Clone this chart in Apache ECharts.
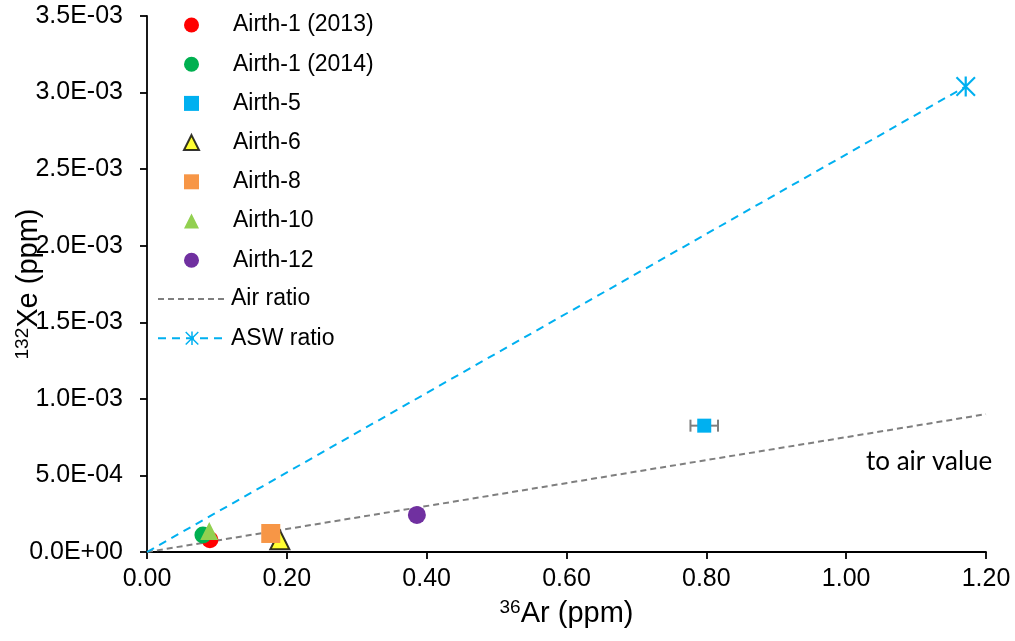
<!DOCTYPE html>
<html>
<head>
<meta charset="utf-8">
<script src="https://cdn.jsdelivr.net/npm/echarts@6/dist/echarts.min.js"></script>
<style>
  html, body { margin: 0; padding: 0; background: #fff; }
  #chart { width: 1015px; height: 641px; }
</style>
</head>
<body>
<div id="chart"></div>
<script>
// Sample measurements: [36Ar (ppm), 132Xe (ppm)]
const airth1_2013 = [[0.090, 0.80e-4]];
const airth1_2014 = [[0.080, 1.11e-4]];
const airth5 = [[0.797, 8.25e-4]];
const airth5ErrX = [0.0197];
const airth6 = [[0.190, 0.80e-4]];
const airth8 = [[0.177, 1.21e-4]];
const airth10 = [[0.089, 1.37e-4]];
const airth12 = [[0.386, 2.42e-4]];
// Reference lines through the origin
const airRatio = [[0, 0], [1.2, 9.0e-4]];
const aswRatio = [[0, 0], [1.171, 3.04e-3]];
// Axis ranges
const xAxisMax = 1.2, xAxisStep = 0.2;
const yAxisMax = 3.5e-3, yAxisStep = 5e-4;

const sampleNames = ['Airth-1 (2013)', 'Airth-1 (2014)', 'Airth-5', 'Airth-6', 'Airth-8', 'Airth-10', 'Airth-12'];
const lineNames = ['Air ratio', 'ASW ratio'];

const FONT = 'Liberation Sans, Arial, sans-serif';

function sciLabel(v) {
  if (Math.abs(v) < 1e-12) return '0.0E+00';
  const [m, e] = v.toExponential(1).split('e');
  const n = parseInt(e, 10);
  const sign = n < 0 ? '-' : '+';
  return m + 'E' + sign + String(Math.abs(n)).padStart(2, '0');
}

// six-armed star marker: vertical bar plus two diagonals
const asterisk = 'path://M8.9,0 L11.1,0 L11.1,20 L8.9,20 Z M0,1.5 L1.5,0 L20,18.5 L18.5,20 Z M18.5,0 L20,1.5 L1.5,20 L0,18.5 Z';

const chart = echarts.init(document.getElementById('chart'), null, { renderer: 'canvas' });

function scatter(name, data, symbol, color, size, extra) {
  return Object.assign({
    name, type: 'scatter', data, symbol, symbolSize: size, z: 5,
    itemStyle: { color, opacity: 1 },
    emphasis: { disabled: true }
  }, extra || {});
}

const titleRich = {
  sup: { fontFamily: FONT, fontSize: 19, color: '#000', verticalAlign: 'top', lineHeight: 32 },
  main: { fontFamily: FONT, fontSize: 29, color: '#000', lineHeight: 32 }
};

chart.setOption({
  animation: false,
  grid: { left: 147, right: 29, top: 16, bottom: 89, containLabel: false, outerBoundsMode: 'none' },
  xAxis: {
    type: 'value', min: 0, max: xAxisMax, interval: xAxisStep,
    axisLine: { onZero: false, lineStyle: { color: '#000', width: 1.8 } },
    axisTick: { show: true, length: 7, lineStyle: { color: '#000', width: 1.8 } },
    splitLine: { show: false },
    axisLabel: { color: '#000', fontFamily: FONT, fontSize: 25, margin: 15, formatter: v => v.toFixed(2) },
    name: '{sup|36}{main|Ar (ppm)}',
    nameLocation: 'middle', nameGap: 46, nameMoveOverlap: false,
    nameTextStyle: { rich: titleRich }
  },
  yAxis: {
    type: 'value', min: 0, max: yAxisMax, interval: yAxisStep,
    axisLine: { show: true, onZero: false, lineStyle: { color: '#000', width: 1.8 } },
    axisTick: { show: true, length: 7, lineStyle: { color: '#000', width: 1.8 } },
    splitLine: { show: false },
    axisLabel: { color: '#000', fontFamily: FONT, fontSize: 25, margin: 24, formatter: sciLabel },
    name: '{sup|132}{main|Xe (ppm)}',
    nameLocation: 'middle', nameGap: 102, nameRotate: 90, nameMoveOverlap: false,
    nameTextStyle: { rich: titleRich }
  },
  legend: [
    {
      orient: 'vertical', left: 183, top: 13, padding: 0,
      itemWidth: 15, itemHeight: 15, itemGap: 15.2,
      textStyle: { fontFamily: FONT, fontSize: 23, color: '#000', lineHeight: 24, padding: [0, 0, 0, 29] },
      data: sampleNames
    },
    {
      orient: 'vertical', left: 157, top: 287, padding: 0,
      itemWidth: 68, itemHeight: 17, itemGap: 15.2,
      textStyle: { fontFamily: FONT, fontSize: 23, color: '#000', lineHeight: 24 },
      data: [
        { name: lineNames[0], itemStyle: { color: 'rgba(0,0,0,0)', borderWidth: 0, opacity: 0 } },
        { name: lineNames[1] }
      ]
    }
  ],
  graphic: [{
    type: 'text', left: 866, top: 449,
    style: { text: 'to air value', fontFamily: 'Lato, Carlito, sans-serif', fontSize: 26, fill: '#000' }
  }],
  series: [
    {
      name: lineNames[0], type: 'line', data: airRatio, symbol: 'none', z: 2,
      lineStyle: { color: '#7f7f7f', width: 2, type: [6, 4] },
      itemStyle: { color: '#7f7f7f' },
      emphasis: { disabled: true }
    },
    {
      name: lineNames[1], type: 'line', z: 2,
      data: aswRatio.map((p, i) => i === 0 ? { value: p, symbol: 'none' } : { value: p }),
      symbol: asterisk, symbolSize: 20, showSymbol: true,
      lineStyle: { color: '#00b0f0', width: 2, type: [8, 6] },
      itemStyle: { color: '#00b0f0' },
      emphasis: { disabled: true }
    },
    scatter(sampleNames[0], airth1_2013, 'circle', '#ff0000', 17),
    scatter(sampleNames[1], airth1_2014, 'circle', '#00b050', 17),
    {
      type: 'custom', z: 4, silent: true,
      data: airth5.map((p, i) => [p[0], p[1], airth5ErrX[i]]),
      renderItem(params, api) {
        const x = api.value(0), y = api.value(1), e = api.value(2);
        const a = api.coord([x - e, y]), b = api.coord([x + e, y]);
        const st = { stroke: '#7f7f7f', lineWidth: 2 };
        return {
          type: 'group', children: [
            { type: 'line', shape: { x1: a[0], y1: a[1], x2: b[0], y2: b[1] }, style: st },
            { type: 'line', shape: { x1: a[0], y1: a[1] - 6, x2: a[0], y2: a[1] + 6 }, style: st },
            { type: 'line', shape: { x1: b[0], y1: b[1] - 6, x2: b[0], y2: b[1] + 6 }, style: st }
          ]
        };
      }
    },
    scatter(sampleNames[2], airth5, 'rect', '#00b0f0', 14),
    scatter(sampleNames[3], airth6, 'triangle', '#ffff00', 19, { itemStyle: { color: '#ffff00', borderColor: '#000', borderWidth: 2 } }),
    scatter(sampleNames[4], airth8, 'rect', '#f79646', 19),
    scatter(sampleNames[5], airth10, 'triangle', '#92d050', 18),
    scatter(sampleNames[6], airth12, 'circle', '#7030a0', 18)
  ]
});
</script>
</body>
</html>
